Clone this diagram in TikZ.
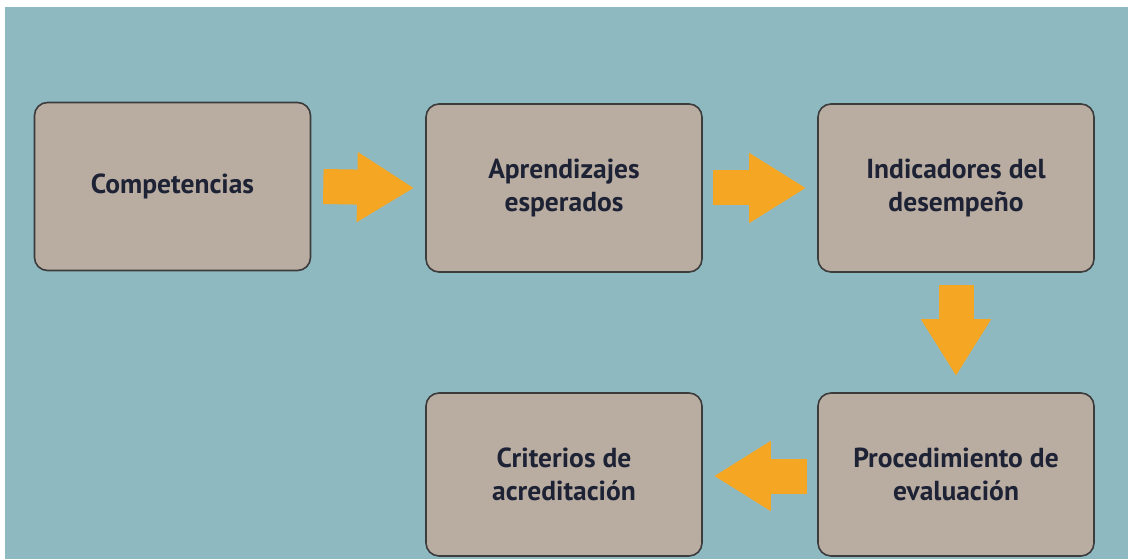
\documentclass[tikz,border=0pt]{standalone}
\usepackage{fontspec}
\setmainfont{PT Sans}
\usetikzlibrary{arrows.meta}
\definecolor{fondo}{HTML}{8FB9C0}
\definecolor{caja}{HTML}{B9ADA2}
\definecolor{borde}{HTML}{3C3C3C}
\definecolor{naranja}{HTML}{F5A623}
\definecolor{texto}{HTML}{1E2235}
\tikzset{
	etapa/.style={draw=borde, line width=1.6pt, fill=caja, rounded corners=13pt,
		minimum width=276pt, minimum height=168pt, inner sep=0pt, align=center,
		text=texto, font=\fontsize{27.5}{33}\selectfont\bfseries},
	flecha/.style={naranja, line width=35pt, line cap=butt,
		-{Triangle[width=66pt, length=57pt]}}
}

\begin{document}
\begin{tikzpicture}[x=1pt, y=-1pt]
		\useasboundingbox (0,0) rectangle (1128,559);
		\fill[white] (0,0) rectangle (1128,559);
		\fill[fondo] (5,7) rectangle (1128,559);

		% fila de arriba
		\node[etapa] (comp) at (172.5,186.5) {Competencias};
		\node[etapa] (apr) at (564,188) {Aprendizajes\\esperados};
		\node[etapa] (ind) at (956,188) {Indicadores del\\desempeño};

		% fila de abajo
		\node[etapa, minimum height=163pt] (proc) at (956,474.5) {Procedimiento de\\evaluación};
		\node[etapa, minimum height=163pt] (crit) at (564,474.5) {Criterios de\\acreditación};

		\draw[flecha] ([xshift=12pt]comp.east) -- ([xshift=-11pt]apr.west);
		\draw[flecha] ([xshift=10pt]apr.east) -- ([xshift=-11pt]ind.west);
		\draw[flecha] ([yshift=-12pt]ind.south) -- ([yshift=16pt]proc.north);
		\draw[flecha] ([xshift=-10pt,yshift=-1.5pt]proc.west) -- ([xshift=11pt,yshift=-1.5pt]crit.east);
	\end{tikzpicture}
\end{document}
